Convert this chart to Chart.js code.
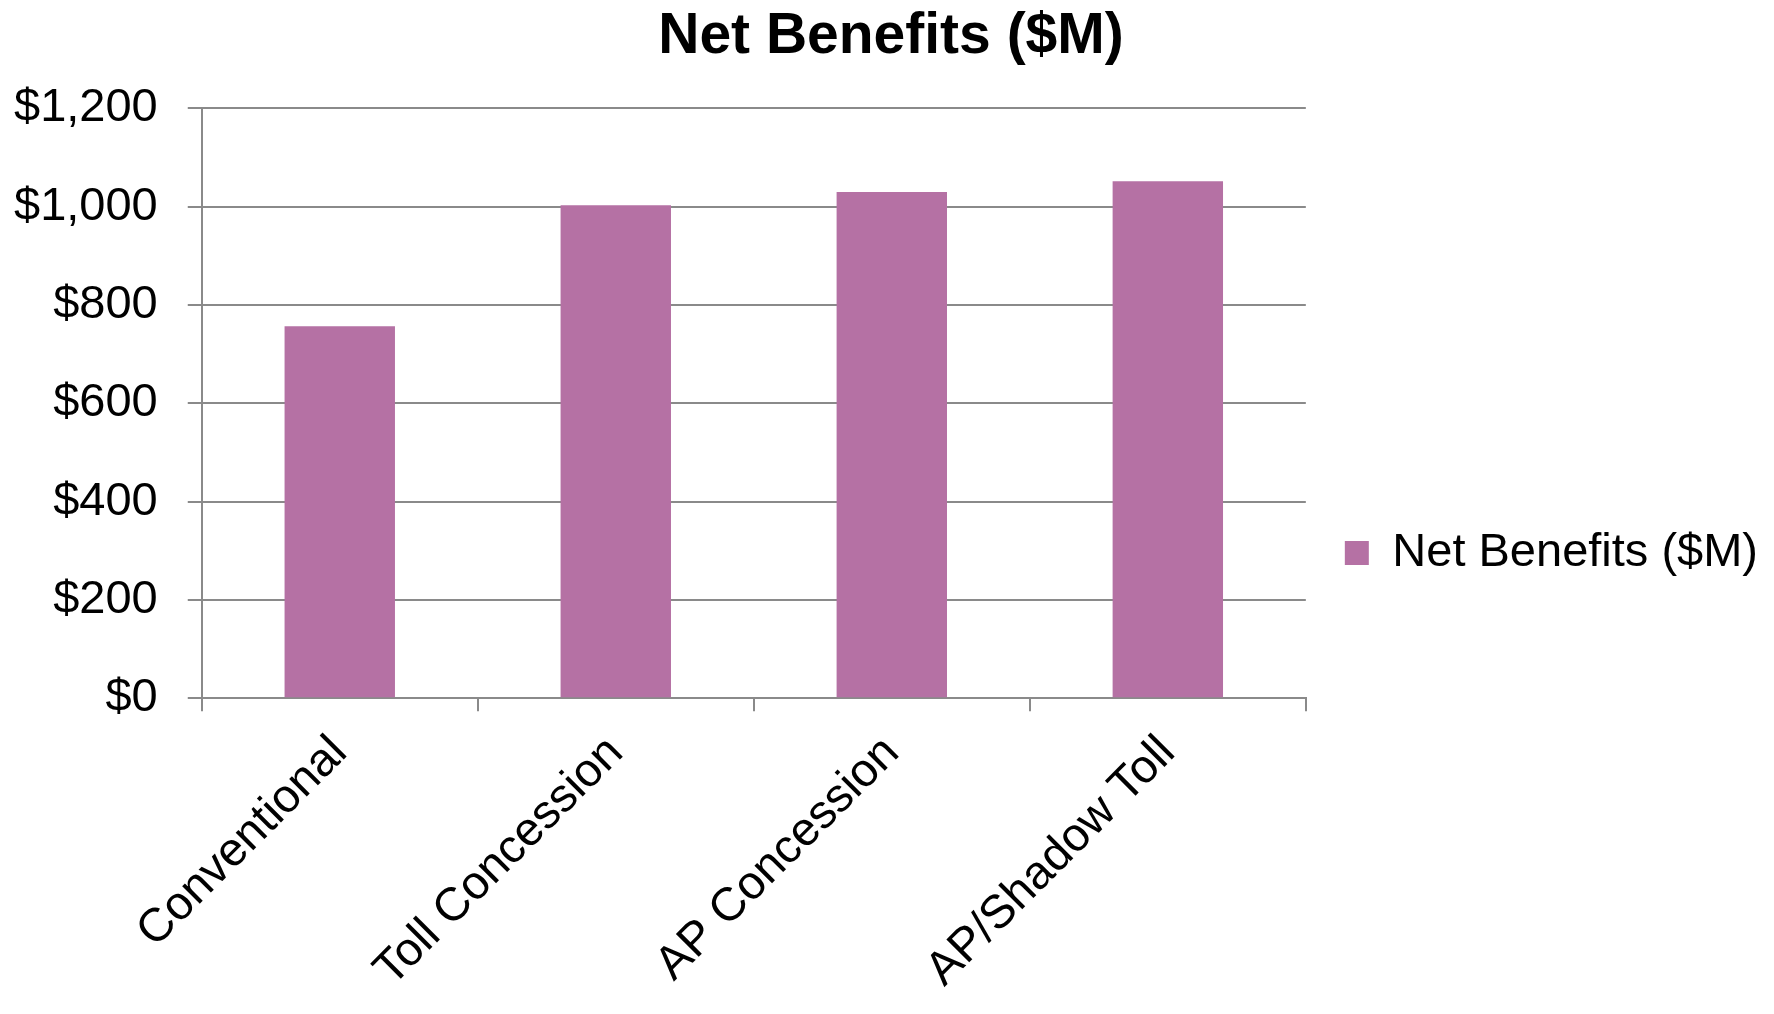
<!DOCTYPE html>
<html>
<head>
<meta charset="utf-8">
<title>Net Benefits ($M)</title>
<script src="https://cdn.jsdelivr.net/npm/chart.js@4.4.1/dist/chart.umd.min.js"></script>
<style>
  html, body { margin: 0; padding: 0; background: #ffffff; }
  #wrap { width: 1774px; height: 1014px; }
</style>
</head>
<body>
<div id="wrap"><canvas id="chart" width="1774" height="1014"></canvas></div>
<script>
// Procurement options and their net benefits, in millions of dollars
const categories = ['Conventional', 'Toll Concession', 'AP Concession', 'AP/Shadow Toll'];
const netBenefits = [757, 1003, 1030, 1052];
const seriesName = 'Net Benefits ($M)';
const chartTitle = 'Net Benefits ($M)';
const yTicks = [0, 200, 400, 600, 800, 1000, 1200];

const barColor = '#b571a4';
const lineColor = '#8a8a8a';

Chart.defaults.font.family = "'Liberation Sans', Arial, sans-serif";
Chart.defaults.color = '#000000';

new Chart(document.getElementById('chart'), {
  type: 'bar',
  data: {
    labels: categories,
    datasets: [{
      label: seriesName,
      data: netBenefits,
      backgroundColor: barColor,
      borderWidth: 0,
      barPercentage: 0.4,
      categoryPercentage: 1.0
    }]
  },
  options: {
    responsive: false,
    animation: false,
    devicePixelRatio: 1,
    layout: { padding: { left: 14, right: 6, top: 0, bottom: 2 } },
    plugins: {
      title: {
        display: true,
        text: chartTitle,
        color: '#000000',
        font: { size: 57, weight: 'bold' },
        padding: { top: 3, bottom: 37 }
      },
      legend: {
        display: true,
        position: 'right',
        maxWidth: 600,
        // blank heading only pushes the single entry down a little
        title: { display: true, text: ' ', font: { size: 10 }, padding: { top: 82, bottom: 0 } },
        labels: {
          boxWidth: 24,
          boxHeight: 24,
          padding: 39,
          color: '#000000',
          font: { size: 47 }
        }
      },
      tooltip: { enabled: false }
    },
    scales: {
      x: {
        afterFit: (scale) => { scale.paddingLeft = 0; scale.paddingRight = 0; },
        grid: {
          display: true,
          offset: true,
          drawOnChartArea: false,
          drawTicks: true,
          tickLength: 13,
          color: lineColor,
          lineWidth: 2
        },
        border: { display: true, color: lineColor, width: 2 },
        ticks: {
          autoSkip: false,
          maxRotation: 45,
          minRotation: 45,
          padding: 14,
          color: '#000000',
          font: { size: 47 }
        }
      },
      y: {
        min: 0,
        max: 1200,
        afterBuildTicks: (scale) => { scale.ticks = yTicks.map(v => ({ value: v })); },
        // keep only the gap on the label side of the axis, not on both sides
        afterFit: (scale) => { scale.width -= scale.options.ticks.padding; },
        grid: {
          color: lineColor,
          lineWidth: 2,
          drawTicks: true,
          tickLength: 14
        },
        border: { display: true, color: lineColor, width: 2 },
        ticks: {
          padding: 30,
          color: '#000000',
          font: { size: 47 },
          callback: (v) => '$' + Number(v).toLocaleString('en-US')
        }
      }
    }
  }
});
</script>
</body>
</html>
